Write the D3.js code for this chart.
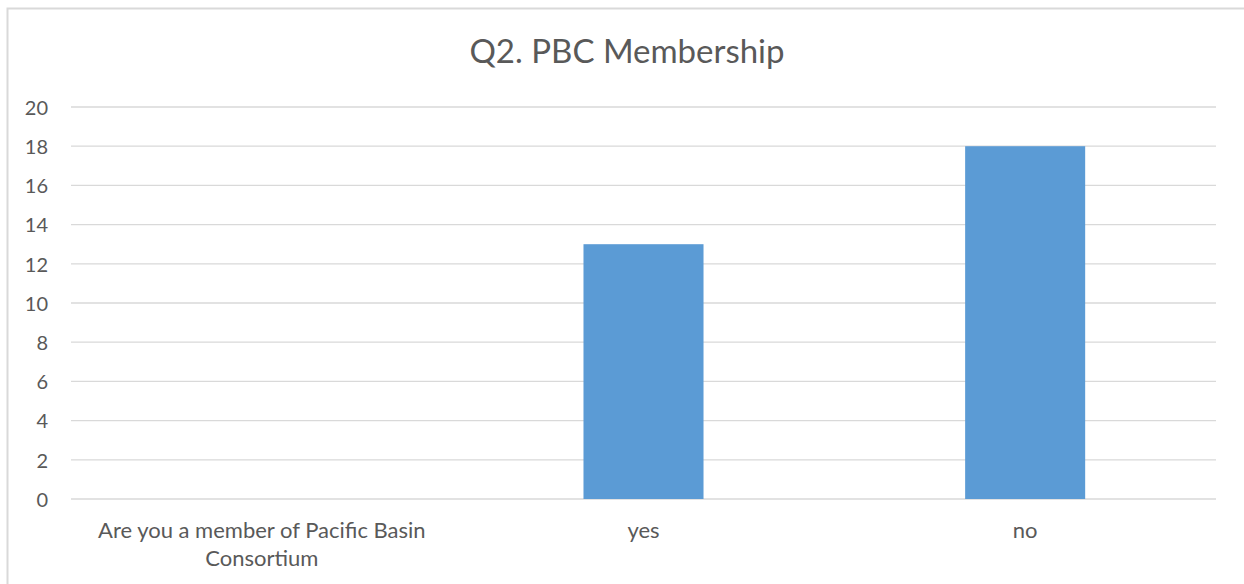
<!DOCTYPE html>
<html><head><meta charset="utf-8">
<script src="https://cdn.jsdelivr.net/npm/d3@7"></script>
<style>
html,body{margin:0;padding:0;background:#fff;}
svg{display:block;font-family:Lato,"Open Sans",sans-serif;}
</style></head>
<body>
<svg id="c" width="1244" height="584"></svg>
<script>
const categories = [["Are you a member of Pacific Basin","Consortium"],["yes"],["no"]];
const values = [null, 13, 18];
const yTicks = [0,2,4,6,8,10,12,14,16,18,20];
const title = "Q2. PBC Membership";

(function(){
const svg = d3.select("#c");
svg.append("rect").attr("x",7.5).attr("y",8.5).attr("width",1250).attr("height",600)
  .attr("fill","#fff").attr("stroke","#d9d9d9").attr("stroke-width",2);

const pl = 71, pr = 1216, pt = 107, pb = 499;
const x = d3.scaleBand().domain(d3.range(categories.length)).range([pl,pr]).paddingInner(0.6855).paddingOuter(0.3428);
const y = d3.scaleLinear().domain([0,20]).range([pb,pt]);

svg.append("g").selectAll("line").data(yTicks).join("line")
  .attr("x1",pl).attr("x2",pr).attr("y1",d=>y(d)).attr("y2",d=>y(d))
  .attr("stroke","#d9d9d9").attr("stroke-width",1.3);

const yAxis = d3.axisLeft(y).tickValues(yTicks).tickSize(0).tickPadding(0);
const gy = svg.append("g").attr("transform",`translate(48,0)`).call(yAxis);
gy.select(".domain").remove();
gy.selectAll("text").attr("fill","#595959").attr("dy","0.36em").style("font-size","20px").style("font-family","Lato,'Open Sans',sans-serif");

svg.append("g").selectAll("rect").data(values.map((v,i)=>({v,i})).filter(d=>d.v!=null)).join("rect")
  .attr("x",d=>x(d.i)).attr("width",x.bandwidth())
  .attr("y",d=>y(d.v)).attr("height",d=>y(0)-y(d.v))
  .attr("fill","#5b9bd5");

const cx = d3.scaleBand().domain(d3.range(categories.length)).range([pl,pr]);
const lab = svg.append("g").selectAll("text").data(categories).join("text")
  .attr("x",(d,i)=>cx(i)+cx.bandwidth()/2).attr("y",538)
  .attr("text-anchor","middle").attr("fill","#595959").style("font-size","22px");
lab.selectAll("tspan").data(d=>d).join("tspan")
  .attr("x",function(){return this.parentNode.getAttribute("x");})
  .attr("dy",(d,i)=>i===0?0:28).text(d=>d);

svg.append("text").attr("x",627).attr("y",63).attr("text-anchor","middle")
  .attr("fill","#595959").style("font-size","33px").text(title);
})();
</script>
</body></html>
